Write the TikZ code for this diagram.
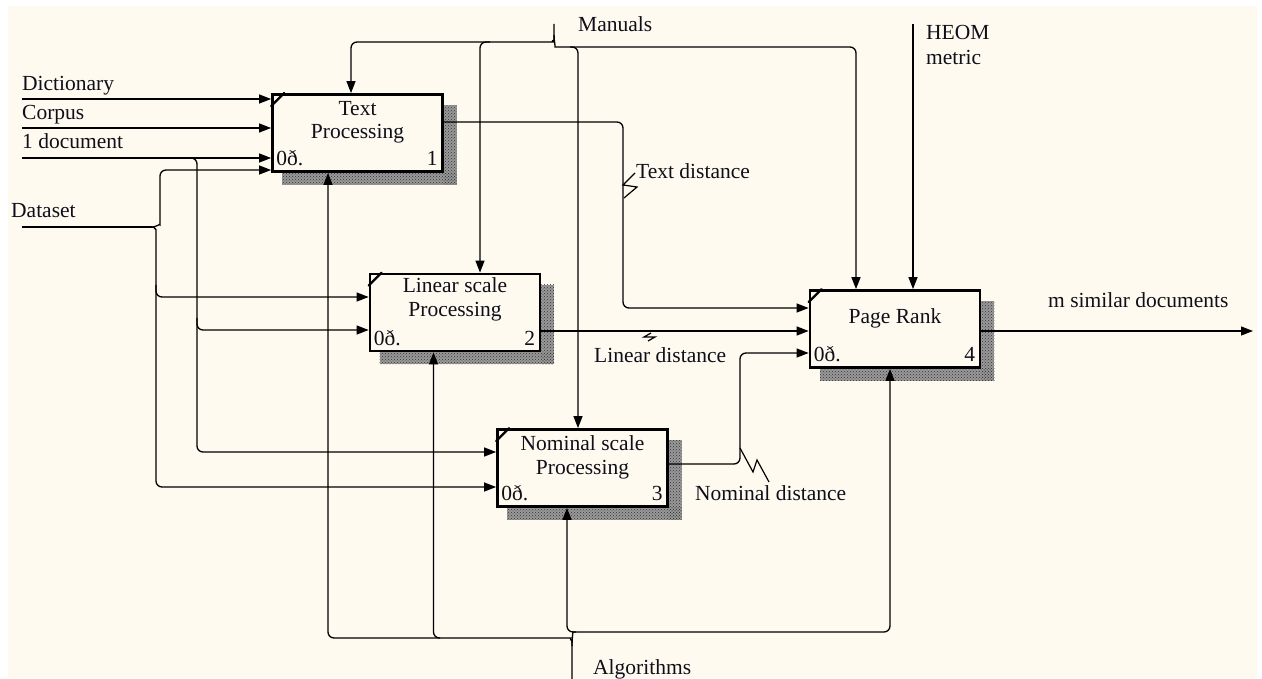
\documentclass[tikz,border=0pt]{standalone}
\usepackage{fontspec}
\setmainfont{Liberation Serif}
\usetikzlibrary{arrows.meta,patterns,calc}
\pgfdeclarelayer{bg}
\pgfdeclarelayer{shd}
\pgfsetlayers{bg,shd,main}
\definecolor{cream}{RGB}{255,250,240}
\definecolor{ink}{RGB}{15,15,25}
\begin{document}
\begin{tikzpicture}[x=1pt,y=1pt,
  every node/.style={font=\fontsize{21.5}{25}\selectfont, text=ink, inner sep=0pt},
  actbox/.style={draw=black, line width=2.8pt, minimum width=170pt, minimum height=77pt, fill=cream},
  conn/.style={draw=black, line width=1.3pt, rounded corners=6pt},
  arr/.style={conn, -{Triangle[length=12pt,width=9pt]}},
  squig/.style={draw=black, line width=1.2pt},
  shadbase/.style={fill=black!40},
  shad/.style={pattern=crosshatch dots, pattern color=black!80},
  lbl/.style={anchor=base west},
  ttl/.style={anchor=base},
  cornermark/.style={draw=black, line width=2.4pt, line cap=round},
]
\useasboundingbox (0,0) rectangle (1262,-679);
\begin{pgfonlayer}{bg}
  \fill[white] (0,0) rectangle (1262,-679);
  \fill[cream] (8,-6) rectangle (1257,-678);
\end{pgfonlayer}

% activity boxes
\node[actbox] (b1) at (357.5,-133) {};
\node[actbox] (b2) at (455,-312.5) {};
\node[actbox] (b3) at (582.5,-468) {};
\node[actbox] (b4) at (895,-329) {};

\begin{pgfonlayer}{shd}
\foreach \b in {b1,b2,b3,b4}{
  \fill[shadbase] ($(\b.north east)+(0,-12)$) rectangle ($(\b.south east)+(13,-12)$);
  \fill[shadbase] ($(\b.south west)+(11,0)$) rectangle ($(\b.south east)+(13,-12)$);
  \fill[shad] ($(\b.north east)+(0,-12)$) rectangle ($(\b.south east)+(13,-12)$);
  \fill[shad] ($(\b.south west)+(11,0)$) rectangle ($(\b.south east)+(13,-12)$);
}
\end{pgfonlayer}

\foreach \b in {b1,b2,b3,b4}{
  \draw[cornermark] ($(\b.north west)+(0,-13)$) -- ($(\b.north west)+(13,0)$);
}

% box texts
\node[ttl] (t1a) at ($(b1.north)+(0,-22)$) {Text};
\node[ttl] (t1b) at ($(b1.north)+(0,-45)$) {Processing};
\node[ttl] (t2a) at ($(b2.north)+(0,-20)$) {Linear scale};
\node[ttl] (t2b) at ($(b2.north)+(0,-44)$) {Processing};
\node[ttl] (t3a) at ($(b3.north)+(0,-22)$) {Nominal scale};
\node[ttl] (t3b) at ($(b3.north)+(0,-46)$) {Processing};
\node[ttl] (t4a) at ($(b4.north)+(0,-34)$) {Page Rank};
\foreach \b/\n in {b1/1,b2/2,b3/3,b4/4}{
  \node[anchor=base west] (\b o) at ($(\b.south west)+(5,7)$) {0ð.};
  \node[anchor=base east] (\b n) at ($(\b.south east)+(-6,7)$) {\n};
}

% inputs from the left
\coordinate (in1) at (22,-99);
\coordinate (in2) at (22,-128);
\coordinate (in3) at (22,-158);
\coordinate (ds) at (22,-227);
\draw[arr] (in1) -- (in1 -| b1.west);
\draw[arr] (in2) -- (in2 -| b1.west);
\draw[arr] (in3) -- (in3 -| b1.west);
\node[lbl] (ldict) at (22,-91) {Dictionary};
\node[lbl] (lcorp) at (22,-120) {Corpus};
\node[lbl] (ldoc) at (22,-149) {1 document};
\node[lbl] (ldata) at (11,-218) {Dataset};

% 1 document branches
\draw[arr] (185,-158) -| (197,-452) -- (b3.west |- 0,-452);
\draw[arr] (197,-318) |- (b2.west |- 0,-330);

% Dataset
\draw[conn] (ds) -- (152,-227);
\draw[arr] (152,-227) to[out=0,in=-90] (160,-219) |- (b1.west |- 0,-170);
\draw[arr] (152,-227) to[out=0,in=90] (156,-235) |- (b3.west |- 0,-487);
\draw[arr] (156,-285) |- (b2.west |- 0,-297);

% Manuals
\coordinate (man) at (554,-24);
\draw[arr] (man) -- (554,-35) to[out=-90,in=0] (547,-42) -| ([xshift=-6.5pt]b1.north);
\draw[arr] (490,-42) -| ([xshift=25pt]b2.north);
\draw[arr] (554,-35) to[out=-90,in=180] (561,-47) -| ([xshift=-39pt]b4.north);
\draw[arr] (570,-47) -| ([xshift=-4.5pt]b3.north);
\node[lbl] (lman) at (578,-32) {Manuals};

% HEOM metric
\coordinate (heom) at (913,-24);
\draw[arr] (heom) -- (heom |- b4.north);
\node[lbl] (lheom) at (926,-40) {HEOM};
\node[lbl] (lmetric) at (926,-65) {metric};

% Text distance
\draw[arr] (b1.east |- 0,-122) -| (623,-308) -- (b4.west |- 0,-308);
\draw[squig] (635,-173) -- (623,-185) -- (637,-187) -- (624,-198);
\node[lbl] (ltd) at (636,-179) {Text distance};

% Linear distance
\draw[arr] (b2.east |- 0,-331) -- (b4.west |- 0,-331);
\draw[squig] (651,-333) -- (644,-337) -- (655,-337) -- (648,-341);
\node[lbl] (lld) at (594,-362) {Linear distance};

% Nominal distance
\draw[arr] (b3.east |- 0,-464) -| (740,-353) -- (b4.west |- 0,-353);
\draw[squig] (740,-448) -- (753,-472) -- (757,-460) -- (769,-482);
\node[lbl] (lnd) at (695,-500) {Nominal distance};

% Output
\coordinate (out) at (1253,-331);
\draw[arr] (b4.east |- out) -- (out);
\node[lbl] (lout) at (1048,-308) {m similar documents};

% Algorithms
\coordinate (alg) at (572,-679);
\draw[arr] (alg) -- (572,-646) to[out=90,in=0] (565,-638) -| ([xshift=-29.5pt]b1.south);
\draw[arr] (440,-638) -| ([xshift=-21.5pt]b2.south);
\draw[arr] (572,-646) to[out=90,in=180] (579,-632) -| ([xshift=-5pt]b4.south);
\draw[arr] (576,-632) -| ([xshift=-15.5pt]b3.south);
\node[lbl] (lalg) at (593,-674) {Algorithms};
\end{tikzpicture}
\end{document}
